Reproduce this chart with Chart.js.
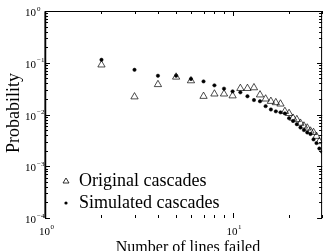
<!DOCTYPE html>
<html>
<head>
<meta charset="utf-8">
<script src="https://cdn.jsdelivr.net/npm/chart.js"></script>
<style>
html, body { margin: 0; padding: 0; background: #fff; overflow: hidden; }
canvas { display: block; }
</style>
</head>
<body>
<canvas id="c" width="327" height="251"></canvas>
<script>
// data
const lines = [2, 3, 4, 5, 6, 7, 8, 9, 10, 11, 12, 13, 14, 15, 16, 17, 18, 19, 20, 21, 22, 23, 24, 25, 26, 27, 28, 29, 30];
const original = [0.091, 0.022, 0.038, 0.053, 0.045, 0.0225, 0.025, 0.025, 0.023, 0.032, 0.032, 0.033, 0.024, 0.020, 0.018, 0.017, 0.016, 0.0115, 0.0105, 0.0085, 0.008, 0.0068, 0.006, 0.0055, 0.0048, 0.0045, 0.0038, 0.003, null];
const simulated = [0.114, 0.073, 0.056, 0.056, 0.0486, 0.0436, 0.0366, 0.0316, 0.028, 0.0268, 0.0225, 0.019, 0.018, 0.0145, 0.0125, 0.0115, 0.011, 0.0105, 0.0085, 0.0075, 0.0065, 0.0056, 0.005, 0.0045, 0.0042, 0.0033, 0.0028, 0.0022, 0.0019];
const xTicks = [1, 10];
const xTickExp = ['0', '1'];
const yTicks = [1, 0.1, 0.01, 0.001, 0.0001];
const yTickExp = ['0', '\u22121', '\u22122', '\u22123', '\u22124'];
const xTitle = 'Number of lines failed';
const yTitle = 'Probability';

function pts(vals) {
    return lines.map((n, i) => ({ x: n, y: vals[i] })).filter(p => p.y !== null);
}

// frame, inward ticks, labels, titles, legend
const decor = {
    id: 'decor',
    afterDraw(chart) {
        const ctx = chart.ctx;
        const a = chart.chartArea;
        const xs = chart.scales.x, ys = chart.scales.y;
        ctx.save();
        ctx.strokeStyle = '#000';
        ctx.fillStyle = '#000';

        // frame (no bottom line)
        ctx.lineWidth = 1;
        ctx.beginPath();
        ctx.moveTo(a.left, a.bottom); ctx.lineTo(a.left, a.top + 0.5);
        ctx.lineTo(a.right - 0.5, a.top + 0.5); ctx.lineTo(a.right - 0.5, a.bottom);
        ctx.stroke();
        ctx.lineWidth = 1.5;
        ctx.beginPath();
        ctx.moveTo(a.left + 0.5, a.bottom); ctx.lineTo(a.left + 0.5, a.top);
        ctx.stroke();

        // x ticks
        ctx.lineWidth = 1;
        for (let d = 1; d <= 10; d *= 10) {
            for (let k = 1; k <= 9; k++) {
                const v = d * k;
                if (v > xs.max) break;
                const px = Math.round(xs.getPixelForValue(v)) + 0.5;
                const len = k === 1 ? 5 : 3;
                ctx.beginPath();
                ctx.moveTo(px, a.bottom); ctx.lineTo(px, a.bottom - len);
                ctx.moveTo(px, a.top); ctx.lineTo(px, a.top + len);
                ctx.stroke();
            }
        }
        // y ticks
        for (let d = 0.0001; d < 1; d *= 10) {
            for (let k = 1; k <= 10; k++) {
                const py = Math.round(ys.getPixelForValue(d * k)) + 0.5;
                const len = (k === 1 || k === 10) ? 5 : 3;
                ctx.beginPath();
                ctx.moveTo(a.left, py); ctx.lineTo(a.left + len, py);
                ctx.moveTo(a.right, py); ctx.lineTo(a.right - len, py);
                ctx.stroke();
            }
        }

        // tick labels as 10 with superscript
        const base = '11px "Liberation Serif"';
        const sup = '7px "Liberation Serif"';
        ctx.textBaseline = 'alphabetic';
        yTicks.forEach((v, i) => {
            const py = ys.getPixelForValue(v);
            ctx.font = base;
            ctx.textAlign = 'left';
            ctx.fillText('10', 25, py + 5);
            ctx.font = sup;
            ctx.fillText(yTickExp[i], 37, py - 0.5);
        });
        xTicks.forEach((v, i) => {
            const px = xs.getPixelForValue(v);
            ctx.font = base;
            ctx.textAlign = 'left';
            ctx.fillText('10', px - 6, a.bottom + 17);
            ctx.font = sup;
            ctx.fillText(xTickExp[i], px + 5.5, a.bottom + 11);
        });

        // titles
        ctx.font = '16px "Liberation Serif"';
        ctx.textAlign = 'center';
        ctx.fillText(xTitle, 188, 252);
        ctx.save();
        ctx.translate(19, 113);
        ctx.rotate(-Math.PI / 2);
        ctx.font = '18px "Liberation Serif"';
        ctx.fillText(yTitle, 0, 0);
        ctx.restore();

        // legend
        ctx.font = '18px "Liberation Serif"';
        ctx.textAlign = 'left';
        chart.data.datasets.forEach((ds, i) => {
            const ly = 181 + i * 22;
            const lx = 66;
            ctx.lineWidth = 0.8;
            if (ds.pointStyle === 'triangle') {
                ctx.beginPath();
                ctx.moveTo(lx, ly - 3); ctx.lineTo(lx + 3, ly + 2); ctx.lineTo(lx - 3, ly + 2);
                ctx.closePath();
                ctx.stroke();
            } else {
                ctx.beginPath();
                ctx.arc(lx, ly, 1.6, 0, Math.PI * 2);
                ctx.fill();
            }
            ctx.fillText(ds.label, 79, ly + 5);
        });
        ctx.restore();
    }
};

new Chart(document.getElementById('c'), {
    type: 'scatter',
    data: {
        datasets: [{
            label: 'Original cascades',
            data: pts(original),
            pointStyle: 'triangle',
            pointRadius: 4.2,
            borderColor: '#000',
            backgroundColor: 'rgba(0,0,0,0)',
            borderWidth: 0.7
        }, {
            label: 'Simulated cascades',
            data: pts(simulated),
            pointStyle: 'circle',
            pointRadius: 1.7,
            borderColor: '#000',
            backgroundColor: '#000',
            borderWidth: 0.5
        }]
    },
    options: {
        responsive: false,
        animation: false,
        devicePixelRatio: 1,
        layout: { padding: { left: 45, right: 2, top: 11, bottom: 33 } },
        plugins: { legend: { display: false }, tooltip: { enabled: false } },
        scales: {
            x: { type: 'logarithmic', min: 1, max: 30, display: false },
            y: { type: 'logarithmic', min: 0.0001, max: 1, display: false }
        }
    },
    plugins: [decor]
});
</script>
</body>
</html>
